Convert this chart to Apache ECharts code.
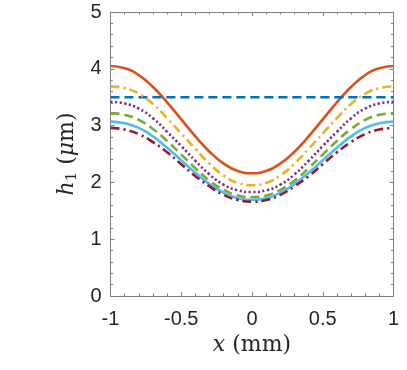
<!DOCTYPE html>
<html>
<head>
<meta charset="utf-8">
<script src="https://cdn.jsdelivr.net/npm/echarts@6/dist/echarts.min.js"></script>
<style>
  html, body { margin: 0; padding: 0; background: #fff; }
  #main { width: 407px; height: 370px; }
</style>
</head>
<body>
<div id="main"></div>
<script>
// x positions (mm)
const xs = [-1, -0.9, -0.8, -0.7, -0.6, -0.5, -0.4, -0.3, -0.2, -0.1, 0,
            0.1, 0.2, 0.3, 0.4, 0.5, 0.6, 0.7, 0.8, 0.9, 1];

// h1 (um)
const hOrange = [4.05, 4.01, 3.89, 3.68, 3.41, 3.11, 2.81, 2.54, 2.33, 2.20, 2.16,
                 2.20, 2.33, 2.54, 2.81, 3.11, 3.41, 3.68, 3.89, 4.01, 4.05];
const hBlue = [3.5, 3.5, 3.5, 3.5, 3.5, 3.5, 3.5, 3.5, 3.5, 3.5, 3.5,
               3.5, 3.5, 3.5, 3.5, 3.5, 3.5, 3.5, 3.5, 3.5, 3.5];
const hYellow = [3.69, 3.66, 3.56, 3.38, 3.13, 2.86, 2.59, 2.33, 2.12, 1.99, 1.95,
                 1.99, 2.12, 2.33, 2.59, 2.86, 3.13, 3.38, 3.56, 3.66, 3.69];
const hPurple = [3.42, 3.39, 3.30, 3.13, 2.89, 2.64, 2.38, 2.14, 1.96, 1.86, 1.83,
                 1.86, 1.96, 2.14, 2.38, 2.64, 2.89, 3.13, 3.30, 3.39, 3.42];
const hGreen = [3.22, 3.19, 3.10, 2.94, 2.73, 2.49, 2.25, 2.03, 1.87, 1.77, 1.74,
                1.77, 1.87, 2.03, 2.25, 2.49, 2.73, 2.94, 3.10, 3.19, 3.22];
const hCyan = [3.07, 3.04, 2.96, 2.81, 2.61, 2.39, 2.17, 1.97, 1.82, 1.72, 1.69,
               1.72, 1.82, 1.97, 2.17, 2.39, 2.61, 2.81, 2.96, 3.04, 3.07];
const hRed = [2.96, 2.93, 2.85, 2.71, 2.53, 2.32, 2.11, 1.93, 1.78, 1.69, 1.66,
              1.69, 1.78, 1.93, 2.11, 2.32, 2.53, 2.71, 2.85, 2.93, 2.96];

function pairs(ys) {
    return xs.map(function (x, i) { return [x, ys[i]]; });
}

function line(ys, color, type) {
    return {
        type: 'line',
        data: pairs(ys),
        smooth: 0.5,
        symbol: 'none',
        lineStyle: { color: color, width: 2.6, type: type },
        silent: true
    };
}

const axisColor = '#808080';
const textColor = '#262626';

function xAx(pos, labels) {
    return {
        type: 'value', position: pos, min: -1, max: 1, interval: 0.5,
        axisLine: { show: true, onZero: false, lineStyle: { color: axisColor, width: 1 } },
        axisTick: { show: true, inside: true, length: 4, lineStyle: { color: axisColor } },
        minorTick: { show: true, splitNumber: 5, length: 2.5, lineStyle: { color: axisColor } },
        axisLabel: { show: labels, fontSize: 20, color: textColor, margin: 13,
                     fontFamily: 'Liberation Sans' },
        splitLine: { show: false }
    };
}

function yAx(pos, labels) {
    return {
        type: 'value', position: pos, min: 0, max: 5, interval: 1,
        axisLine: { show: true, onZero: false, lineStyle: { color: axisColor, width: 1 } },
        axisTick: { show: true, inside: true, length: 4, lineStyle: { color: axisColor } },
        minorTick: { show: true, splitNumber: 5, length: 2.5, lineStyle: { color: axisColor } },
        axisLabel: { show: labels, fontSize: 20, color: textColor, margin: 9,
                     fontFamily: 'Liberation Sans' },
        splitLine: { show: false }
    };
}

const chart = echarts.init(document.getElementById('main'));

const serif = 'DejaVu Serif';

const xBottom = xAx('bottom', true);
xBottom.name = '{i|x} (mm)';
xBottom.nameLocation = 'middle';
xBottom.nameGap = 38;
xBottom.nameTextStyle = {
    fontSize: 22, color: textColor, fontFamily: serif,
    rich: { i: { fontSize: 22, fontStyle: 'italic', fontFamily: serif, color: textColor } }
};

const yLeft = yAx('left', true);
yLeft.name = '{i|h}{s|1} ({i|μ}m)';
yLeft.nameLocation = 'middle';
yLeft.nameGap = 27;
yLeft.nameTextStyle = {
    fontSize: 22, color: textColor, fontFamily: serif,
    rich: {
        i: { fontSize: 22, fontStyle: 'italic', fontFamily: serif, color: textColor },
        s: { fontSize: 15, fontFamily: serif, color: textColor, padding: [10, 0, 0, 0] }
    }
};

chart.setOption({
    animation: false,
    backgroundColor: '#ffffff',
    grid: { left: 110.5, right: 13.5, top: 12, bottom: 74, containLabel: false },
    xAxis: [xBottom, xAx('top', false)],
    yAxis: [yLeft, yAx('right', false)],
    series: [
        line(hOrange, '#D95319', 'solid'),
        line(hBlue, '#0072BD', [9, 5]),
        line(hYellow, '#EDB120', [9, 4, 2.2, 4]),
        line(hPurple, '#7E2F8E', [2.2, 2.4]),
        line(hGreen, '#77AC30', [9, 5]),
        line(hCyan, '#4DBEEE', 'solid'),
        line(hRed, '#A2142F', [9, 4, 2.2, 4])
    ]
});
</script>
</body>
</html>
